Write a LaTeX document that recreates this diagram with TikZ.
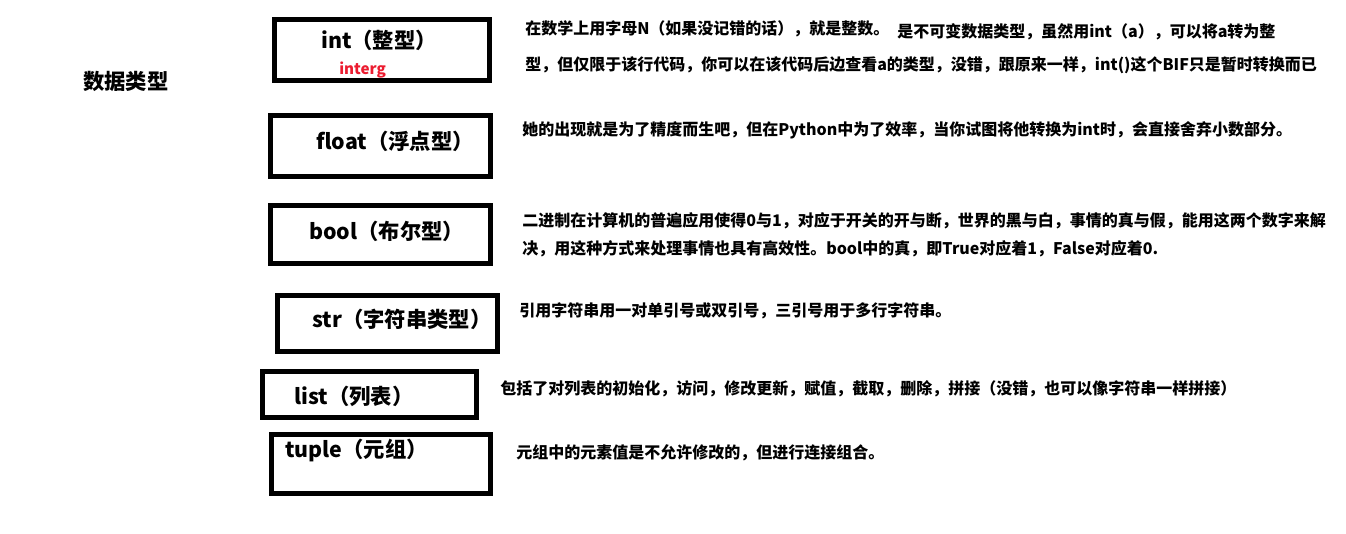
\documentclass[tikz,border=0pt]{standalone}
\usepackage{fontspec}
\setmainfont{Noto Sans CJK SC}
\newfontfamily\cjk{Noto Sans CJK SC}
\definecolor{intred}{RGB}{236,28,48}
\tikzset{
  box/.style={draw=black, line width=3.75pt, inner sep=0pt},
  label/.style={anchor=west, inner sep=0pt, font=\cjk\bfseries\fontsize{16}{19}\selectfont},
  desc/.style={anchor=west, inner sep=0pt, font=\cjk\bfseries\fontsize{12}{14}\selectfont},
}
\begin{document}
\begin{tikzpicture}[x=0.75pt,y=-0.75pt]
\useasboundingbox (0,0) rectangle (1346,533);
\fill[white] (0,0) rectangle (1346,533);
% title
\node[label] (title) at (83,81) {数据类型};
% boxes
\node[box, minimum width={215*0.75pt}, minimum height={61*0.75pt}] (bint) at (382,50) {};
\node[box, minimum width={220*0.75pt}, minimum height={61*0.75pt}] (bfloat) at (380.5,146) {};
\node[box, minimum width={220*0.75pt}, minimum height={58*0.75pt}] (bbool) at (380.5,234.5) {};
\node[box, minimum width={220*0.75pt}, minimum height={56*0.75pt}] (bstr) at (387.5,323.5) {};
\node[box, minimum width={214*0.75pt}, minimum height={46*0.75pt}] (blist) at (369.5,394.5) {};
\node[box, minimum width={219*0.75pt}, minimum height={59*0.75pt}] (btuple) at (381,464) {};
% labels
\node[label] (lint) at (321,40) {int（整型）};
\node[anchor=west, inner sep=0pt, text=intred, font=\cjk\bfseries\fontsize{11.4}{13}\selectfont] (linterg) at (339,70) {interg};
\node[label] (lfloat) at (316,141) {float（浮点型）};
\node[label] (lbool) at (309,231) {bool（布尔型）};
\node[label] (lstr) at (312,319) {str（字符串类型）};
\node[label] (llist) at (294,396) {list（列表）};
\node[label] (ltuple) at (285,450) {tuple（元组）};
% descriptions
\node[desc] (dint1) at (525,29) {在数学上用字母N（如果没记错的话），就是整数。};
\node[desc] (dint2) at (897,32) {是不可变数据类型，虽然用int（a），可以将a转为整};
\node[desc] (dint3) at (525,65) {型，但仅限于该行代码，你可以在该代码后边查看a的类型，没错，跟原来一样，int()这个BIF只是暂时转换而已};
\node[desc] (dfloat) at (522,130) {她的出现就是为了精度而生吧，但在Python中为了效率，当你试图将他转换为int时，会直接舍弃小数部分。};
\node[desc] (dbool1) at (522,221) {二进制在计算机的普遍应用使得0与1，对应于开关的开与断，世界的黑与白，事情的真与假，能用这两个数字来解};
\node[desc] (dbool2) at (522,249) {决，用这种方式来处理事情也具有高效性。bool中的真，即True对应着1，False对应着0.};
\node[desc] (dstr) at (519,311) {引用字符串用一对单引号或双引号，三引号用于多行字符串。};
\node[desc] (dlist) at (500,389) {包括了对列表的初始化，访问，修改更新，赋值，截取，删除，拼接（没错，也可以像字符串一样拼接）};
\node[desc] (dtuple) at (516,453) {元组中的元素值是不允许修改的，但进行连接组合。};
\end{tikzpicture}
\end{document}
